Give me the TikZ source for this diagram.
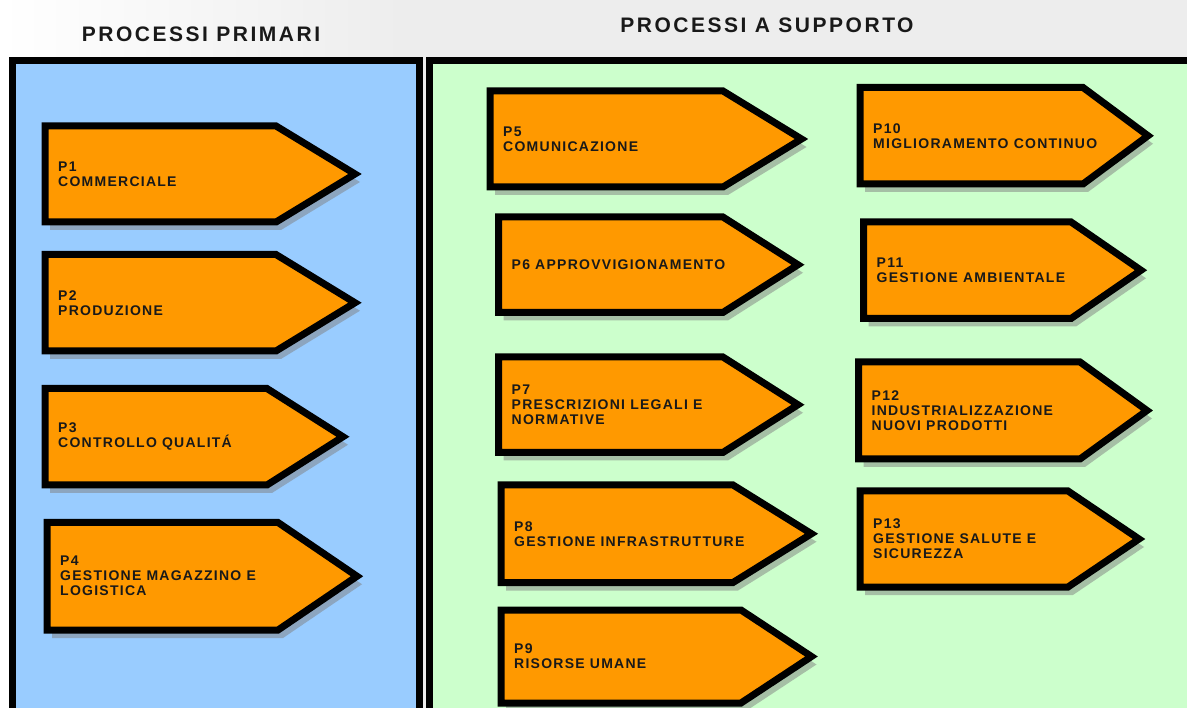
\documentclass[tikz,border=0pt]{standalone}
\usepackage{fontspec}
\newfontfamily\titlefont[LetterSpace=12]{Liberation Sans}
\newfontfamily\procfont[LetterSpace=9]{Liberation Sans}
\usetikzlibrary{positioning,shapes.symbols,shadows}

\definecolor{primariBlue}{HTML}{99CCFF}
\definecolor{supportoGreen}{HTML}{CCFFCC}
\definecolor{procOrange}{HTML}{FF9900}

\tikzset{
  panelBox/.style={draw=black, line width=7pt},
  panelTitle/.style={font=\titlefont\bfseries\fontsize{21}{24}\selectfont, inner sep=0pt, text=black!90},
  procBox/.style={signal, signal to=east, draw=black, line width=7pt, fill=procOrange,
    inner sep=0pt, outer sep=0pt, anchor=west,
    drop shadow={shadow xshift=5pt, shadow yshift=-8pt, fill=gray, opacity=0.5}},
  procText/.style={font=\procfont\bfseries\fontsize{14}{15}\selectfont, align=left, inner sep=0pt, text=black!90}
}

\begin{document}
\begin{tikzpicture}[x=1pt, y=-1pt]
	\useasboundingbox (0,0) rectangle (1187,708);
	\clip (0,0) rectangle (1187,708);

	% header and panels
	\shade[left color=white, right color=black!7] (0,0) rectangle (400,708);
	\fill[black!7] (400,0) rectangle (1187,708);
	\draw[panelBox, fill=primariBlue] (12.5,61) rectangle (419.5,730);
	\draw[panelBox, fill=supportoGreen] (429,61) rectangle (1210,730);

	\node[panelTitle] (primariTitle)  at (201,34.5) {PROCESSI PRIMARI};
	\node[panelTitle] (supportoTitle) at (767,25)   {PROCESSI A SUPPORTO};

	% processi primari
	\node[procBox, minimum width=310pt, minimum height=96pt,   signal pointer angle=62.6](p1Box) at (45,174){};
	\node[procBox, minimum width=310pt, minimum height=96.5pt, signal pointer angle=62.8](p2Box) at (45,302.75){};
	\node[procBox, minimum width=298pt, minimum height=96.5pt, signal pointer angle=64.8](p3Box) at (45,436.75){};
	\node[procBox, minimum width=310pt, minimum height=107.5pt,signal pointer angle=68.5](p4Box) at (47,576.25){};

	\node[procText, right=13pt of p1Box.west](p1Label){P1\\COMMERCIALE};
	\node[procText, right=13pt of p2Box.west](p2Label){P2\\PRODUZIONE};
	\node[procText, right=13pt of p3Box.west](p3Label){P3\\CONTROLLO QUALITÁ};
	\node[procText, right=13pt of p4Box.west](p4Label){P4\\GESTIONE MAGAZZINO E\\LOGISTICA};

	% processi a supporto
	\node[procBox, minimum width=311.5pt, minimum height=96pt,   signal pointer angle=62.9](p5Box) at (490,139){};
	\node[procBox, minimum width=299.5pt, minimum height=95.5pt, signal pointer angle=64.9](p6Box) at (498.5,264.75){};
	\node[procBox, minimum width=299.5pt, minimum height=95.5pt, signal pointer angle=64.9](p7Box) at (498.5,404.75){};
	\node[procBox, minimum width=310.5pt, minimum height=97.5pt, signal pointer angle=63.7](p8Box) at (501,533.75){};
	\node[procBox, minimum width=310.5pt, minimum height=93pt,   signal pointer angle=66.8](p9Box) at (501,656.5){};

	\node[procBox, minimum width=288pt,   minimum height=96.5pt, signal pointer angle=73.2](p10Box) at (860,135.75){};
	\node[procBox, minimum width=277.5pt, minimum height=96.5pt, signal pointer angle=69.2](p11Box) at (863.5,270.25){};
	\node[procBox, minimum width=288.5pt, minimum height=97pt,   signal pointer angle=71.8](p12Box) at (858.5,410.5){};
	\node[procBox, minimum width=279pt,   minimum height=96pt,   signal pointer angle=68.1](p13Box) at (860,539){};

	\node[procText, right=13pt of p5Box.west](p5Label){P5\\COMUNICAZIONE};
	\node[procText, right=13pt of p6Box.west](p6Label){P6 APPROVVIGIONAMENTO};
	\node[procText, right=13pt of p7Box.west](p7Label){P7\\PRESCRIZIONI LEGALI E\\NORMATIVE};
	\node[procText, right=13pt of p8Box.west](p8Label){P8\\GESTIONE INFRASTRUTTURE};
	\node[procText, right=13pt of p9Box.west](p9Label){P9\\RISORSE UMANE};

	\node[procText, right=13pt of p10Box.west](p10Label){P10\\MIGLIORAMENTO CONTINUO};
	\node[procText, right=13pt of p11Box.west](p11Label){P11\\GESTIONE AMBIENTALE};
	\node[procText, right=13pt of p12Box.west](p12Label){P12\\INDUSTRIALIZZAZIONE\\NUOVI PRODOTTI};
	\node[procText, right=13pt of p13Box.west](p13Label){P13\\GESTIONE SALUTE E\\SICUREZZA};
\end{tikzpicture}
\end{document}
